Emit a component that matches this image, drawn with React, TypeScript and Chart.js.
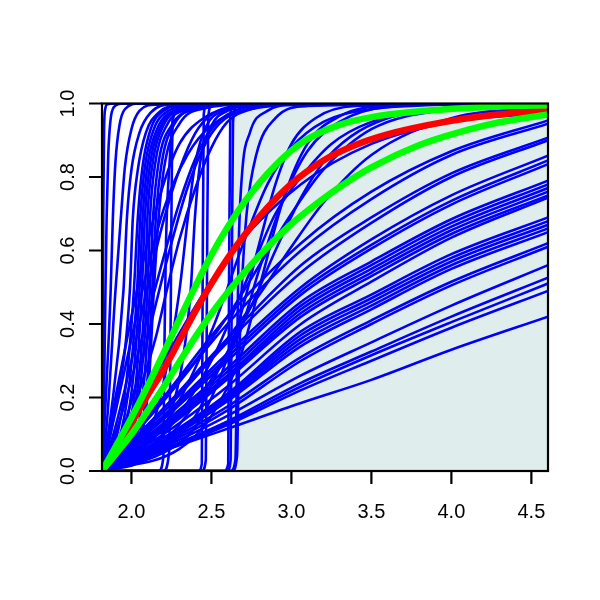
import React, { useEffect, useRef } from 'react';
import { Chart, registerables } from 'chart.js';

Chart.register(...registerables);

type Pt = [number, number];

const X_MIN = 1.816;
const X_MAX = 4.604;
const xTicks = [2.0, 2.5, 3.0, 3.5, 4.0, 4.5];
const xTickLabels = ['2.0', '2.5', '3.0', '3.5', '4.0', '4.5'];
const yTicks = [0, 0.2, 0.4, 0.6, 0.8, 1.0];
const yTickLabels = ['0.0', '0.2', '0.4', '0.6', '0.8', '1.0'];

// shaded region (x range, full height)
const shadeX = [2.62, 4.604];
const shadeY = [1, 1];

const redCurve: Pt[] = [
  [1.816, 0], [1.9, 0.055], [2.0, 0.13], [2.1, 0.205], [2.2, 0.275], [2.3, 0.355], [2.4, 0.435],
  [2.5, 0.51], [2.6, 0.578], [2.7, 0.638], [2.8, 0.692], [2.9, 0.74], [3.0, 0.782], [3.2, 0.845],
  [3.4, 0.887], [3.6, 0.916], [3.85, 0.941], [4.1, 0.96], [4.4, 0.975], [4.604, 0.982],
];

const greenUpper: Pt[] = [
  [1.816, 0], [1.9, 0.065], [2.0, 0.145], [2.1, 0.23], [2.2, 0.32], [2.3, 0.413], [2.4, 0.503],
  [2.5, 0.588], [2.6, 0.663], [2.7, 0.728], [2.8, 0.784], [2.9, 0.832], [3.0, 0.872], [3.1, 0.903],
  [3.3, 0.942], [3.5, 0.963], [3.8, 0.979], [4.1, 0.988], [4.4, 0.993], [4.604, 0.995],
];

const greenLower: Pt[] = [
  [1.816, 0], [1.9, 0.045], [2.0, 0.1], [2.1, 0.163], [2.2, 0.228], [2.3, 0.297], [2.4, 0.365],
  [2.5, 0.428], [2.6, 0.485], [2.7, 0.537], [2.8, 0.586], [2.9, 0.631], [3.0, 0.672], [3.1, 0.708],
  [3.3, 0.772], [3.5, 0.826], [3.8, 0.887], [4.1, 0.928], [4.3, 0.949], [4.604, 0.97],
];

const steepCurves: Pt[][] = [
  [[1.816, 0], [1.82, 0.3], [1.824, 0.7], [1.829, 0.93], [1.836, 0.985], [1.85, 0.998], [1.9, 1], [4.604, 1]],
  [[1.816, 0], [1.83, 0.25], [1.838, 0.5], [1.845, 0.69], [1.855, 0.86], [1.868, 0.95], [1.89, 0.99], [1.95, 1], [4.604, 1]],
  [[1.816, 0], [1.84, 0.2], [1.87, 0.49], [1.884, 0.69], [1.9, 0.84], [1.925, 0.94], [1.96, 0.985], [2.05, 1], [4.604, 1]],
  [[1.816, 0], [1.85, 0.15], [1.9, 0.49], [1.934, 0.69], [1.96, 0.83], [2.0, 0.93], [2.05, 0.98], [2.15, 0.997], [4.604, 1]],
  [[1.816, 0], [1.87, 0.15], [1.95, 0.49], [1.972, 0.69], [2.0, 0.82], [2.05, 0.92], [2.12, 0.975], [2.25, 0.997], [4.604, 1]],
  [[1.816, 0], [1.89, 0.15], [1.99, 0.49], [2.009, 0.69], [2.04, 0.82], [2.09, 0.92], [2.17, 0.975], [2.3, 0.995], [4.604, 1]],
  [[1.816, 0], [1.9, 0.08], [1.97, 0.25], [2.015, 0.49], [2.04, 0.69], [2.07, 0.83], [2.12, 0.93], [2.2, 0.98], [2.35, 0.997], [4.604, 1]],
  [[1.816, 0], [1.92, 0.08], [1.99, 0.25], [2.035, 0.49], [2.055, 0.69], [2.085, 0.83], [2.14, 0.93], [2.23, 0.98], [2.4, 0.997], [4.604, 1]],
  [[1.816, 0], [1.93, 0.07], [2.01, 0.25], [2.05, 0.49], [2.07, 0.69], [2.1, 0.83], [2.16, 0.93], [2.26, 0.98], [2.45, 0.997], [4.604, 1]],
  [[1.816, 0], [1.95, 0.07], [2.03, 0.25], [2.065, 0.49], [2.084, 0.69], [2.115, 0.83], [2.18, 0.935], [2.3, 0.982], [2.5, 0.997], [4.604, 1]],
  [[1.816, 0], [1.96, 0.06], [2.045, 0.25], [2.085, 0.49], [2.1, 0.69], [2.13, 0.83], [2.2, 0.94], [2.33, 0.985], [2.55, 0.998], [4.604, 1]],
  [[1.816, 0], [1.98, 0.06], [2.06, 0.25], [2.1, 0.49], [2.116, 0.69], [2.15, 0.84], [2.22, 0.94], [2.36, 0.985], [2.6, 0.998], [4.604, 1]],
  [[1.816, 0], [2.0, 0.05], [2.08, 0.25], [2.115, 0.49], [2.135, 0.69], [2.17, 0.84], [2.25, 0.94], [2.4, 0.985], [2.65, 0.998], [4.604, 1]],
  [[1.816, 0], [2.02, 0.05], [2.1, 0.25], [2.13, 0.49], [2.153, 0.69], [2.19, 0.84], [2.27, 0.945], [2.43, 0.987], [2.7, 0.998], [4.604, 1]],
  [[1.816, 0], [2.03, 0.05], [2.11, 0.25], [2.14, 0.49], [2.17, 0.69], [2.21, 0.84], [2.3, 0.945], [2.46, 0.987], [2.75, 0.998], [4.604, 1]],
];

const arcCurves: Pt[][] = [
  [[1.816, 0], [1.9, 0.2], [2.0, 0.42], [2.1, 0.62], [2.2, 0.78], [2.3, 0.89], [2.45, 0.96], [2.7, 0.993], [3.2, 1], [4.604, 1]],
  [[1.816, 0], [1.9, 0.16], [2.0, 0.36], [2.1, 0.55], [2.2, 0.71], [2.35, 0.86], [2.5, 0.94], [2.75, 0.985], [3.2, 0.999], [4.604, 1]],
  [[1.816, 0], [1.9, 0.12], [2.0, 0.3], [2.1, 0.5], [2.2, 0.68], [2.3, 0.82], [2.4, 0.92], [2.5, 0.97], [2.65, 0.993], [3.0, 1], [4.604, 1]],
  [[1.816, 0], [1.9, 0.1], [2.0, 0.25], [2.1, 0.42], [2.2, 0.58], [2.3, 0.73], [2.4, 0.85], [2.5, 0.93], [2.6, 0.97], [2.8, 0.995], [4.604, 1]],
  [[1.816, 0], [1.95, 0.1], [2.05, 0.22], [2.15, 0.36], [2.22, 0.49], [2.3, 0.63], [2.4, 0.77], [2.5, 0.88], [2.6, 0.95], [2.75, 0.985], [3.0, 0.998], [4.604, 1]],
  [[1.816, 0], [2.05, 0.06], [2.15, 0.15], [2.25, 0.35], [2.3, 0.49], [2.353, 0.69], [2.4, 0.84], [2.47, 0.94], [2.57, 0.98], [2.75, 0.996], [4.604, 1]],
  [[1.816, 0], [2.1, 0.04], [2.22, 0.13], [2.32, 0.3], [2.37, 0.49], [2.397, 0.69], [2.43, 0.84], [2.5, 0.94], [2.6, 0.98], [2.8, 0.996], [4.604, 1]],
  [[1.816, 0], [1.95, 0.12], [2.05, 0.27], [2.15, 0.45], [2.25, 0.62], [2.35, 0.77], [2.45, 0.88], [2.55, 0.945], [2.7, 0.982], [2.95, 0.997], [4.604, 1]],
];

const stepCurves: Pt[][] = [
  [[1.816, 0], [2.17, 0], [2.2, 0.04], [2.205, 0.3], [2.215, 0.6], [2.24, 0.85], [2.26, 0.96], [2.3, 0.99], [2.45, 1], [4.604, 1]],
  [[1.816, 0], [2.2, 0], [2.235, 0.05], [2.245, 0.4], [2.252, 0.8], [2.26, 0.96], [2.29, 0.993], [2.4, 1], [4.604, 1]],
  [[1.816, 0], [2.42, 0], [2.44, 0.02], [2.445, 0.5], [2.452, 0.97], [2.47, 0.997], [2.55, 1], [4.604, 1]],
  [[1.816, 0], [2.44, 0], [2.465, 0.03], [2.472, 0.5], [2.48, 0.96], [2.5, 0.995], [2.6, 1], [4.604, 1]],
  [[1.816, 0], [2.58, 0], [2.605, 0.02], [2.61, 0.5], [2.618, 0.97], [2.64, 0.997], [2.75, 1], [4.604, 1]],
  [[1.816, 0], [2.6, 0], [2.62, 0.03], [2.627, 0.5], [2.635, 0.95], [2.66, 0.995], [2.8, 1], [4.604, 1]],
  [[1.816, 0], [2.62, 0], [2.65, 0.03], [2.66, 0.3], [2.67, 0.6], [2.69, 0.8], [2.74, 0.92], [2.85, 0.98], [3.0, 0.996], [4.604, 1]],
  [[1.816, 0], [2.63, 0], [2.66, 0.04], [2.67, 0.25], [2.69, 0.5], [2.72, 0.7], [2.78, 0.86], [2.9, 0.96], [3.1, 0.993], [4.604, 1]],
];

const midCurves: Pt[][] = [
  [[1.816, 0], [2.2, 0.05], [2.4, 0.12], [2.55, 0.25], [2.68, 0.42], [2.8, 0.62], [2.9, 0.78], [3.0, 0.89], [3.15, 0.96], [3.4, 0.993], [4.604, 1]],
  [[1.816, 0], [2.2, 0.06], [2.4, 0.15], [2.55, 0.28], [2.68, 0.38], [2.8, 0.55], [2.95, 0.74], [3.1, 0.87], [3.3, 0.95], [3.6, 0.99], [4.604, 1]],
  [[1.816, 0], [2.3, 0.06], [2.5, 0.15], [2.68, 0.31], [2.8, 0.5], [2.95, 0.74], [3.1, 0.89], [3.3, 0.965], [3.6, 0.994], [4.604, 1]],
  [[1.816, 0], [2.2, 0.08], [2.5, 0.25], [2.75, 0.45], [2.9, 0.6], [3.06, 0.744], [3.2, 0.84], [3.37, 0.91], [3.6, 0.96], [4.0, 0.99], [4.604, 1]],
  [[1.816, 0], [2.2, 0.1], [2.5, 0.3], [2.75, 0.55], [2.9, 0.7], [3.06, 0.8], [3.25, 0.89], [3.5, 0.95], [3.9, 0.985], [4.604, 0.998]],
  [[1.816, 0], [2.2, 0.12], [2.5, 0.38], [2.7, 0.62], [2.85, 0.78], [3.0, 0.88], [3.2, 0.95], [3.5, 0.985], [4.0, 0.998], [4.604, 1]],
  [[1.816, 0], [2.0, 0.1], [2.2, 0.2], [2.4, 0.3], [2.6, 0.42], [2.8, 0.56], [3.0, 0.7], [3.2, 0.82], [3.5, 0.93], [4.0, 0.985], [4.604, 1]],
  [[1.816, 0], [2.0, 0.08], [2.2, 0.17], [2.4, 0.26], [2.6, 0.36], [2.8, 0.48], [3.0, 0.61], [3.2, 0.73], [3.5, 0.86], [4.0, 0.96], [4.604, 0.99]],
];

const fanX = [1.816, 2.2, 2.6, 3.06, 3.5, 4.0, 4.604];
const fanCurves: number[][] = [
  [0, 0.3, 0.58, 0.78, 0.89, 0.95, 0.975],
  [0, 0.2, 0.42, 0.62, 0.76, 0.87, 0.954],
  [0, 0.19, 0.4, 0.6, 0.74, 0.86, 0.945],
  [0, 0.17, 0.36, 0.56, 0.69, 0.81, 0.907],
  [0, 0.16, 0.35, 0.54, 0.675, 0.8, 0.9],
  [0, 0.15, 0.32, 0.5, 0.63, 0.75, 0.858],
  [0, 0.145, 0.31, 0.49, 0.615, 0.735, 0.845],
  [0, 0.14, 0.3, 0.48, 0.605, 0.725, 0.835],
  [0, 0.13, 0.28, 0.46, 0.57, 0.685, 0.79],
  [0, 0.125, 0.27, 0.45, 0.56, 0.675, 0.78],
  [0, 0.12, 0.26, 0.44, 0.55, 0.665, 0.77],
  [0, 0.115, 0.255, 0.43, 0.54, 0.655, 0.76],
  [0, 0.11, 0.25, 0.42, 0.53, 0.645, 0.75],
  [0, 0.1, 0.23, 0.4, 0.515, 0.635, 0.744],
  [0, 0.09, 0.21, 0.38, 0.48, 0.59, 0.69],
  [0, 0.088, 0.205, 0.37, 0.47, 0.58, 0.68],
  [0, 0.085, 0.2, 0.36, 0.46, 0.57, 0.67],
  [0, 0.083, 0.195, 0.35, 0.45, 0.56, 0.66],
  [0, 0.08, 0.19, 0.34, 0.44, 0.55, 0.65],
  [0, 0.075, 0.175, 0.31, 0.41, 0.515, 0.62],
  [0, 0.07, 0.165, 0.3, 0.4, 0.505, 0.61],
  [0, 0.065, 0.15, 0.26, 0.35, 0.45, 0.56],
  [0, 0.06, 0.135, 0.24, 0.325, 0.42, 0.526],
  [0, 0.058, 0.13, 0.23, 0.315, 0.405, 0.51],
  [0, 0.055, 0.125, 0.22, 0.3, 0.39, 0.49],
  [0, 0.055, 0.115, 0.185, 0.248, 0.33, 0.42],
];

const BLUE = '#0000FF';
const RED = '#FF0000';
const GREEN = '#00FF00';
const SHADE = '#E0EDED';

const toXY = (pts: Pt[]) => pts.map(([x, y]) => ({ x, y }));

const rAxesPlugin = {
  id: 'rAxes',
  afterDraw(chart: any) {
    const { ctx, chartArea: a, scales } = chart;
    const xs = scales.x;
    const ys = scales.y;
    ctx.save();
    ctx.strokeStyle = '#000';
    ctx.lineWidth = 2.2;
    ctx.lineCap = 'butt';
    ctx.strokeRect(a.left, a.top, a.right - a.left, a.bottom - a.top);
    ctx.beginPath();
    xTicks.forEach((v) => {
      const px = xs.getPixelForValue(v);
      ctx.moveTo(px, a.bottom);
      ctx.lineTo(px, a.bottom + 13);
    });
    yTicks.forEach((v) => {
      const py = ys.getPixelForValue(v);
      ctx.moveTo(a.left, py);
      ctx.lineTo(a.left - 13, py);
    });
    ctx.stroke();
    ctx.fillStyle = '#000';
    ctx.font = '20px "Liberation Sans", Arial, sans-serif';
    ctx.textAlign = 'center';
    ctx.textBaseline = 'middle';
    xTicks.forEach((v, i) => {
      ctx.fillText(xTickLabels[i], xs.getPixelForValue(v), a.bottom + 41);
    });
    yTicks.forEach((v, i) => {
      ctx.save();
      ctx.translate(a.left - 34, ys.getPixelForValue(v));
      ctx.rotate(-Math.PI / 2);
      ctx.fillText(yTickLabels[i], 0, 0);
      ctx.restore();
    });
    ctx.restore();
  },
};

export default function App() {
  const ref = useRef<HTMLCanvasElement | null>(null);

  useEffect(() => {
    if (!ref.current) return;
    const lineBase = {
      pointRadius: 0,
      fill: false,
      cubicInterpolationMode: 'monotone' as const,
      clip: 0,
    };
    const blueStyle = { ...lineBase, borderColor: BLUE, borderWidth: 2.6, order: 2 };
    const blueSets = [...steepCurves, ...arcCurves, ...stepCurves, ...midCurves].map((c) => ({
      data: toXY(c),
      ...blueStyle,
    }));
    const fanSets = fanCurves.map((ys) => ({
      data: ys.map((y, i) => ({ x: fanX[i], y })),
      ...blueStyle,
    }));
    const datasets: any[] = [
      { data: toXY(greenUpper), ...lineBase, borderColor: GREEN, borderWidth: 6.5, order: 0 },
      { data: toXY(greenLower), ...lineBase, borderColor: GREEN, borderWidth: 6.5, order: 0 },
      { data: toXY(redCurve), ...lineBase, borderColor: RED, borderWidth: 6.5, order: 1 },
      ...blueSets,
      ...fanSets,
      {
        data: shadeX.map((x, i) => ({ x, y: shadeY[i] })),
        pointRadius: 0,
        borderWidth: 0,
        borderColor: 'rgba(0,0,0,0)',
        backgroundColor: SHADE,
        fill: 'origin',
        tension: 0,
        clip: 0,
        order: 5,
      },
    ];
    const chart = new Chart(ref.current, {
      type: 'line',
      data: { datasets },
      options: {
        animation: false,
        responsive: false,
        events: [],
        layout: { padding: { left: 102, right: 52, top: 103.5, bottom: 129 } },
        plugins: { legend: { display: false }, tooltip: { enabled: false } },
        scales: {
          x: { type: 'linear', min: X_MIN, max: X_MAX, display: false },
          y: { type: 'linear', min: 0, max: 1, display: false },
        },
      },
      plugins: [rAxesPlugin],
    });
    return () => chart.destroy();
  }, []);

  return (
    <div style={{ position: 'absolute', left: 0, top: 0, width: 600, height: 600, background: '#fff' }}>
      <canvas ref={ref} width={600} height={600} />
    </div>
  );
}
